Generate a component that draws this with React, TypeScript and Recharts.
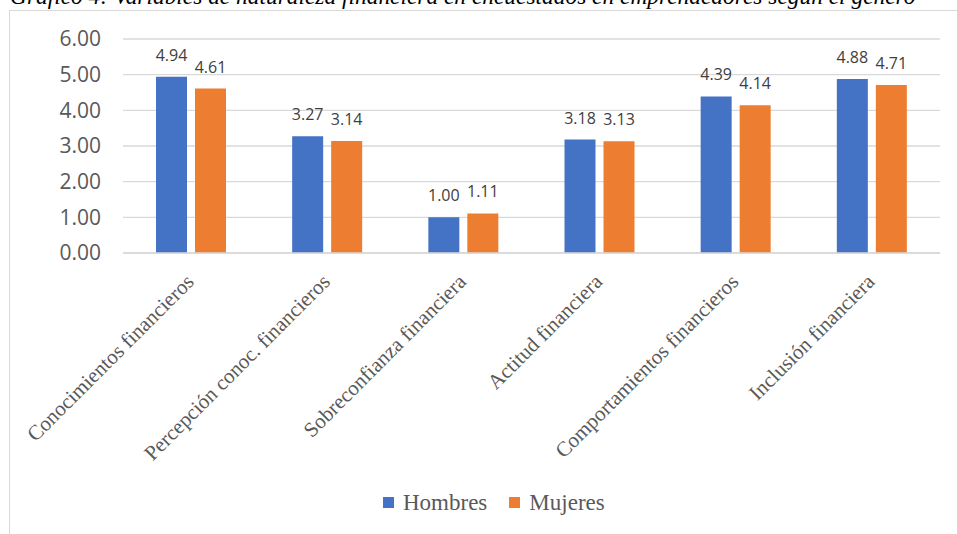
import React from 'react';
import { BarChart, Bar, XAxis, YAxis, CartesianGrid, LabelList, Legend } from 'recharts';

const categories = [
  'Conocimientos financieros',
  'Percepción conoc. financieros',
  'Sobreconfianza financiera',
  'Actitud financiera',
  'Comportamientos financieros',
  'Inclusión financiera',
];
const hombres = [4.94, 3.27, 1.0, 3.18, 4.39, 4.88];
const mujeres = [4.61, 3.14, 1.11, 3.13, 4.14, 4.71];
const yTicks = [0, 1, 2, 3, 4, 5, 6];
const seriesNames = ['Hombres', 'Mujeres'];
const seriesColors = ['#4472C4', '#ED7D31'];

const title =
  'Gráfico 4: Variables de naturaleza financiera en encuestados en emprendedores según el género';

const SERIF = "'Liberation Serif', 'Times New Roman', serif";
const SANS = "'Open Sans', 'Liberation Sans', sans-serif";

const data = categories.map((name, i) => ({
  name,
  [seriesNames[0]]: hombres[i],
  [seriesNames[1]]: mujeres[i],
}));

// rotated category label, right end anchored just under the tick
const CategoryTick = (props: any) => {
  const { x, y, payload } = props;
  const ax = x + 4;
  const ay = y + 30;
  return (
    <text
      x={ax}
      y={ay}
      transform={`rotate(-45 ${ax} ${ay})`}
      textAnchor="end"
      fill="#595959"
      fontFamily={SERIF}
      fontSize={21}
    >
      {payload.value}
    </text>
  );
};

const LegendContent = (props: any) => {
  const { payload = [] } = props;
  return (
    <div style={{ display: 'flex', alignItems: 'center', fontFamily: SERIF, fontSize: 23, lineHeight: '23px', color: '#595959' }}>
      {payload.map((entry: any, i: number) => (
        <span key={entry.value} style={{ display: 'flex', alignItems: 'center', marginLeft: i === 0 ? 0 : 22 }}>
          <span style={{ display: 'inline-block', width: 11, height: 11, background: entry.color, marginRight: 9 }} />
          <span>{entry.value}</span>
        </span>
      ))}
    </div>
  );
};

export default function App() {
  return (
    <div style={{ position: 'absolute', left: 0, top: 0, width: 957, height: 534, overflow: 'hidden', background: '#fff' }}>
      {/* chart frame */}
      <div
        style={{
          position: 'absolute',
          left: 9,
          top: 10,
          width: 960,
          height: 540,
          borderLeft: '1px solid #d9d9d9',
          borderTop: '1px solid #d9d9d9',
        }}
      />
      {/* caption above the frame, only its lower part lies inside the page */}
      <svg width={957} height={14} style={{ position: 'absolute', left: 0, top: 0 }}>
        <text x={10} y={4} fontFamily={SERIF} fontStyle="italic" fontSize={23.4} fill="#000">
          {title}
        </text>
      </svg>
      <div style={{ position: 'absolute', left: 0, top: 0 }}>
        <BarChart
          width={957}
          height={534}
          data={data}
          margin={{ top: 39, right: 17, left: 10, bottom: 0 }}
          barGap={8}
        >
          <CartesianGrid vertical={false} stroke="#d9d9d9" strokeWidth={1.3} />
          <XAxis
            dataKey="name"
            height={281}
            interval={0}
            tickLine={false}
            tickSize={0}
            tickMargin={0}
            axisLine={{ stroke: '#d9d9d9', strokeWidth: 1.3 }}
            tick={<CategoryTick />}
          />
          <YAxis
            width={113}
            domain={[0, 6]}
            ticks={yTicks}
            interval={0}
            axisLine={false}
            tickLine={false}
            tickSize={0}
            tickMargin={22}
            tickFormatter={(v: number) => v.toFixed(2)}
            tick={{ fill: '#595959', fontSize: 21, fontFamily: SANS }}
          />
          <Legend
            layout="horizontal"
            verticalAlign="middle"
            align="center"
            content={<LegendContent />}
            wrapperStyle={{ left: 383, top: 491, width: 300, height: 24 }}
          />
          {seriesNames.map((s, i) => (
            <Bar key={s} dataKey={s} name={s} fill={seriesColors[i]} barSize={31} isAnimationActive={false}>
              <LabelList
                dataKey={s}
                position="top"
                offset={16}
                formatter={(v: any) => Number(v).toFixed(2)}
                fill="#404040"
                fontSize={16}
                fontFamily={SANS}
              />
            </Bar>
          ))}
        </BarChart>
      </div>
    </div>
  );
}
